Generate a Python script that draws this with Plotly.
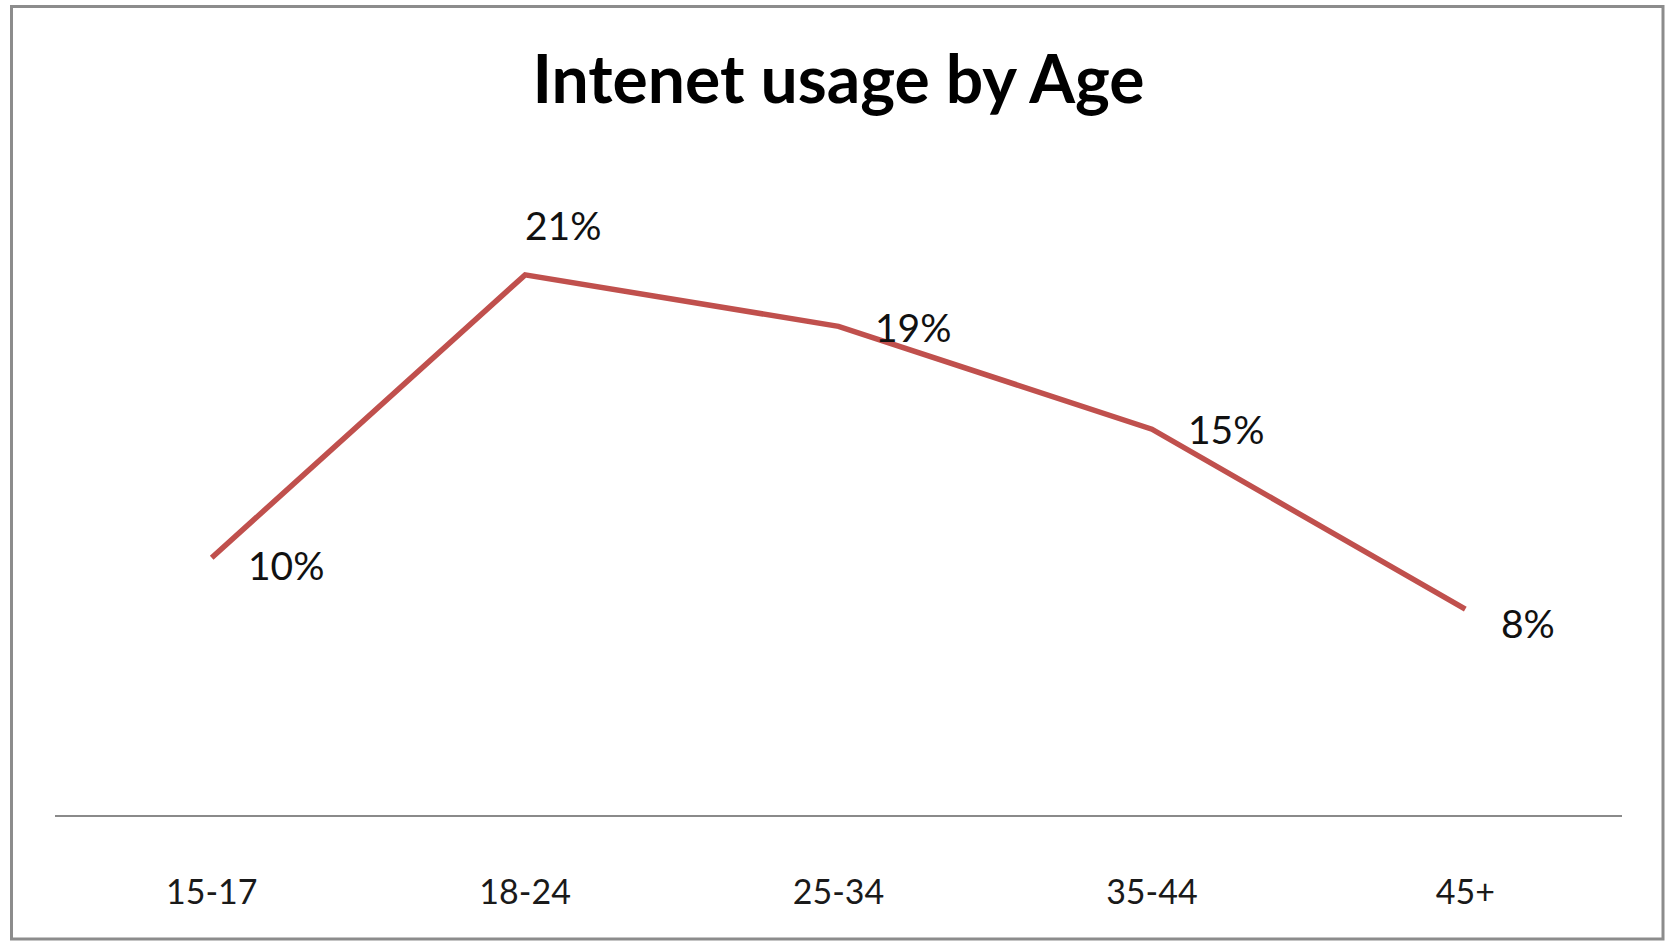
import plotly.graph_objects as go

# Share of internet usage per age group
age_groups = ["15-17", "18-24", "25-34", "35-44", "45+"]
usage_pct = [10, 21, 19, 15, 8]

# Per-point label placement (pixel shifts from each point)
label_xshift = [34, -2, 34, 34, 34]
label_yshift = [-7, 50, -1, 0, -14]

W, H = 1667, 941
L, R, T, B = 55, 45, 172, 126
plot_w = W - L - R
plot_h = H - T - B

line_color = "#C0504D"

fig = go.Figure()
fig.add_trace(go.Scatter(
    x=age_groups,
    y=usage_pct,
    mode="lines",
    line=dict(color=line_color, width=5.5),
    hoverinfo="skip",
    showlegend=False,
))

for cat, val, dx, dy in zip(age_groups, usage_pct, label_xshift, label_yshift):
    fig.add_annotation(
        x=cat, y=val, text=f"{val}%",
        showarrow=False, xanchor="left", yanchor="middle",
        xshift=dx, yshift=dy,
        font=dict(family="Lato", size=39, color="#111111"),
    )

# Outer chart border, expressed relative to the plot area
def px_x(p):
    return (p - L) / plot_w

def px_y(p):
    return 1 - (p - T) / plot_h

fig.add_shape(
    type="rect", xref="paper", yref="paper",
    x0=px_x(11.5), x1=px_x(1663), y0=px_y(939), y1=px_y(6.5),
    line=dict(color="#8C8C8C", width=3), fillcolor="rgba(0,0,0,0)",
    layer="below",
)

fig.update_layout(
    width=W, height=H,
    margin=dict(l=L, r=R, t=T, b=B),
    paper_bgcolor="white",
    plot_bgcolor="white",
    title=dict(
        text="Intenet usage by Age",
        x=0.5, xref="paper", xanchor="center",
        y=1 - 80 / H, yref="container", yanchor="middle",
        font=dict(family="Lato", size=66, color="#000000", weight=700),
    ),
    xaxis=dict(
        type="category",
        range=[-0.5, 4.5],
        showgrid=False, zeroline=False,
        showline=True, linecolor="#8A8A8A", linewidth=1.5,
        ticks="",
        ticklabelstandoff=46,
        tickfont=dict(family="Lato", size=34, color="#1A1A1A"),
        fixedrange=True,
    ),
    yaxis=dict(
        range=[0, 25],
        showgrid=False, zeroline=False, showline=False,
        showticklabels=False, ticks="",
        fixedrange=True,
    ),
)

fig.write_html("out.html")
